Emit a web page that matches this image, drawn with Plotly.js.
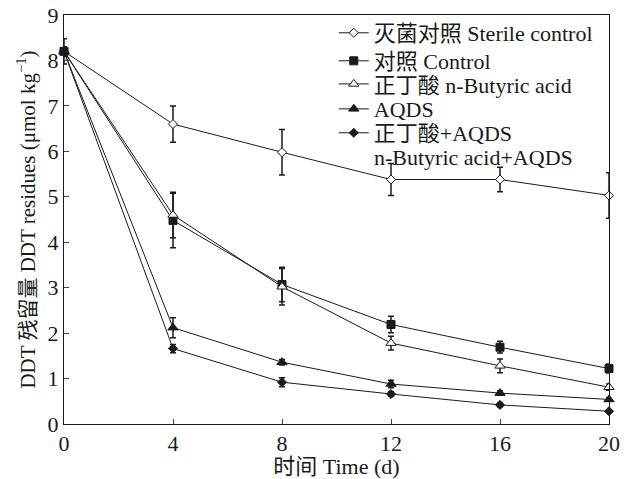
<!DOCTYPE html>
<html><head><meta charset="utf-8">
<script src="https://cdn.plot.ly/plotly-3.0.1.min.js"></script>
<style>body{margin:0}#c{width:625px;height:479px}</style>
</head><body><div id="c"></div>
<script>
var days = [0, 4, 8, 12, 16, 20];
var names = ['灭菌对照 Sterile control', '对照 Control', '正丁酸 n-Butyric acid', 'AQDS', '正丁酸+AQDS'];
var lastNameLine2 = 'n-Butyric acid+AQDS';
var sterile = [8.2, 6.6, 5.98, 5.38, 5.38, 5.03];
var sterileErr = [0.28, 0.4, 0.5, 0.35, 0.27, 0.5];
var control = [8.2, 4.48, 3.07, 2.19, 1.69, 1.22];
var controlErr = [0.1, 0.6, 0.38, 0.18, 0.13, 0.1];
var butyric = [8.2, 4.6, 3.02, 1.78, 1.28, 0.81];
var butyricErr = [0.1, 0.5, 0.4, 0.15, 0.15, 0.07];
var aqds = [8.2, 2.12, 1.36, 0.88, 0.68, 0.54];
var aqdsErr = [0.05, 0.22, 0.06, 0.08, 0.05, 0.04];
var both = [8.2, 1.66, 0.92, 0.66, 0.42, 0.28];
var bothErr = [0.05, 0.09, 0.1, 0.05, 0.04, 0.03];

var F = '"Liberation Serif", "Times New Roman", "Noto Sans CJK SC", serif';
var series = [
  {y: sterile, e: sterileErr, sym: 'diamond', fill: 'white', size: 7},
  {y: control, e: controlErr, sym: 'square', fill: '#1a1a1a', size: 8},
  {y: butyric, e: butyricErr, sym: 'triangle-up', fill: 'white', size: 9},
  {y: aqds, e: aqdsErr, sym: 'triangle-up', fill: '#1a1a1a', size: 9},
  {y: both, e: bothErr, sym: 'diamond', fill: '#1a1a1a', size: 7}
];
var legendIds = ['legend', 'legend2', 'legend3', 'legend4', 'legend5'];
var legendY = [0.956, 0.8875, 0.831, 0.770, 0.7115];
var traces = series.map(function(s, i) {
  return {
    x: days, y: s.y, name: names[i], type: 'scatter', mode: 'lines+markers',
    legend: legendIds[i],
    line: {color: '#1a1a1a', width: 1},
    marker: {symbol: s.sym, size: s.size, color: s.fill, line: {color: '#1a1a1a', width: 1}},
    error_y: {type: 'data', array: s.e, visible: true, color: '#1a1a1a', thickness: 1.5, width: 3},
    cliponaxis: false
  };
});

var layout = {
  width: 625, height: 479,
  margin: {l: 64, r: 16, t: 15, b: 55},
  paper_bgcolor: 'white', plot_bgcolor: 'white',
  font: {family: F, size: 21, color: '#1a1a1a'},
  showlegend: true,
  xaxis: {
    range: [0, 20], tickvals: [0, 4, 8, 12, 16, 20], ticks: 'inside', ticklen: 5,
    showline: true, mirror: true, linecolor: '#1a1a1a', linewidth: 1, showgrid: false, zeroline: false,
    tickfont: {family: F, size: 22},
    title: {text: '时间 Time (d)', font: {family: F, size: 22}, standoff: 6}
  },
  yaxis: {
    range: [0, 9], dtick: 1, ticks: 'inside', ticklen: 5,
    showline: true, mirror: true, linecolor: '#1a1a1a', linewidth: 1, showgrid: false, zeroline: false,
    tickfont: {family: F, size: 22},
    title: {text: 'DDT 残留量 DDT residues (μmol kg<sup>−1</sup>)', font: {family: F, size: 21}, standoff: 6}
  },
  annotations: [{
    text: lastNameLine2, xref: 'paper', yref: 'paper', x: 0.566, y: 0.6528,
    xanchor: 'left', yanchor: 'middle', showarrow: false,
    font: {family: F, size: 22, color: '#1a1a1a'}
  }]
};
legendIds.forEach(function(id, i) {
  layout[id] = {x: 0.495, y: legendY[i], xanchor: 'left', yanchor: 'middle', bgcolor: 'rgba(0,0,0,0)',
    font: {family: F, size: 22, color: '#1a1a1a'}, itemwidth: 30};
});
Plotly.newPlot('c', traces, layout, {displayModeBar: false});
</script></body></html>
